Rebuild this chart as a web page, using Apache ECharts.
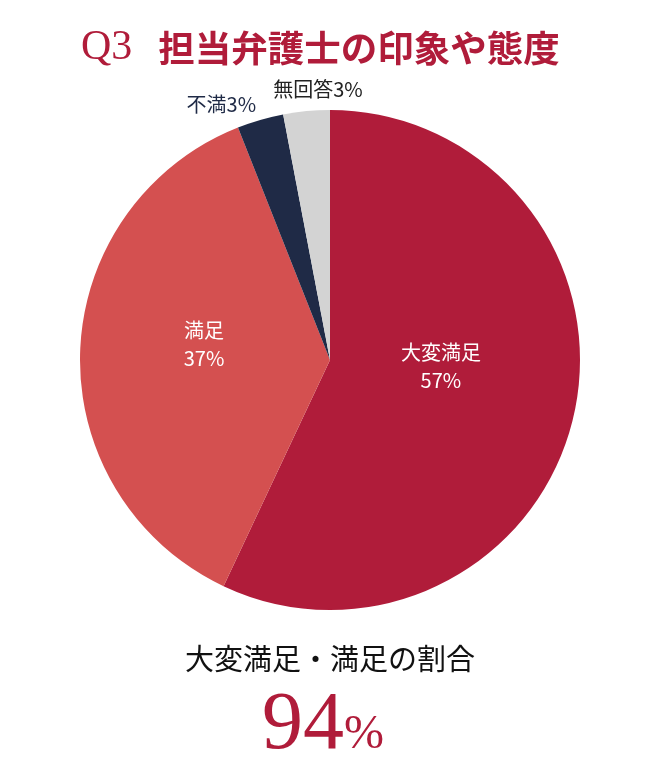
<!DOCTYPE html>
<html>
<head>
<meta charset="utf-8">
<script src="https://cdn.jsdelivr.net/npm/echarts@6/dist/echarts.min.js"></script>
<style>
  html, body { margin: 0; padding: 0; background: #fff; }
  #main { width: 660px; height: 762px; }
</style>
</head>
<body>
<div id="main"></div>
<script>
// 回答データ
var categories = ['大変満足', '満足', '不満', '無回答'];
var percents = [57, 37, 3, 3];
var colors = ['#b01c3a', '#d45050', '#1f2a46', '#d3d3d3'];
var summaryLabel = '大変満足・満足の割合';
var summaryValue = 94;

// 各ラベルの見た目（小さい扇形のラベルは円の外へずらす）
var labelStyles = [
    { color: '#fff', offset: [-14, -22], formatter: '{b}\n{c}%' },
    { color: '#fff', offset: [2, -12], formatter: '{b}\n{c}%' },
    { color: '#1f2a46', offset: [-73, -133], formatter: '{b}{c}%' },
    { color: '#222', offset: [0, -143], formatter: '{b}{c}%' }
];

function buildData(){
    var data = [];
    for (let i = 0; i < categories.length; i++) {
        data.push({
            name: categories[i],
            value: percents[i],
            itemStyle: { color: colors[i] },
            label: labelStyles[i]
        });
    }
    return data;
}

var myChart = echarts.init(document.getElementById('main'));
var option = {
    backgroundColor: '#fff',
    title: [
        {
            text: '{q|Q3}{t|担当弁護士の印象や態度}',
            left: 76,
            top: 22,
            textStyle: {
                rich: {
                    q: { fontFamily: 'Liberation Serif', fontSize: 42, fontWeight: 'normal', color: '#b01c3a', padding: [0, 26, 0, 0] },
                    t: { fontFamily: 'Noto Sans CJK JP', fontSize: 36.5, fontWeight: 'bold', color: '#b01c3a' }
                }
            }
        },
        {
            text: summaryLabel,
            left: 'center',
            top: 639,
            textStyle: { fontFamily: 'Noto Sans CJK JP', fontSize: 29, fontWeight: 'normal', color: '#111' }
        },
        {
            text: '{n|' + summaryValue + '}{p|%}',
            left: 257,
            top: 680,
            textStyle: {
                rich: {
                    n: { fontFamily: 'Liberation Serif', fontSize: 82, fontWeight: 'normal', color: '#b01c3a' },
                    p: { fontFamily: 'Liberation Serif', fontSize: 48, fontWeight: 'normal', color: '#b01c3a', padding: [18, 0, 0, 0] }
                }
            }
        }
    ],
    series: [
        {
            type: 'pie',
            center: [330, 360],
            radius: [0, 250],
            startAngle: 90,
            clockwise: true,
            silent: true,
            avoidLabelOverlap: false,
            label: {
                position: 'inside',
                fontFamily: 'Noto Sans CJK JP',
                fontSize: 20,
                lineHeight: 28
            },
            labelLine: { show: false },
            data: buildData()
        }
    ]
};
myChart.setOption(option);
</script>
</body>
</html>
